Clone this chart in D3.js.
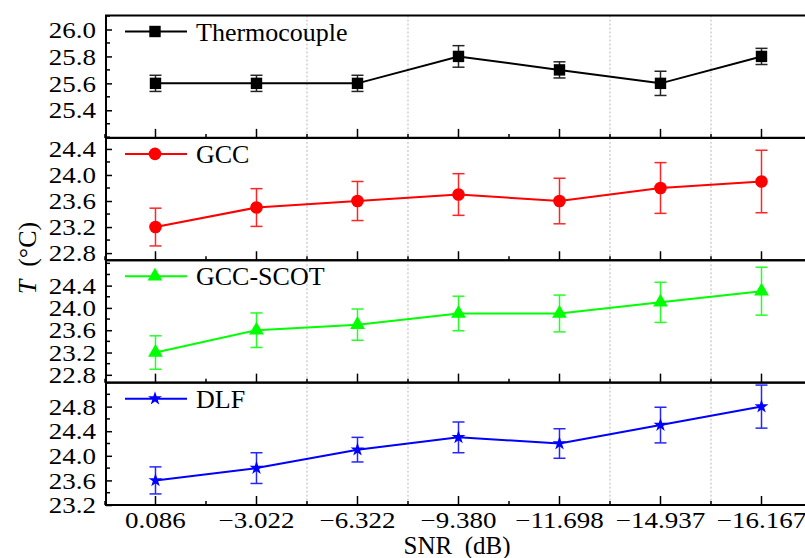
<!DOCTYPE html>
<html>
<head>
<meta charset="utf-8">
<script src="https://cdn.jsdelivr.net/npm/d3@7"></script>
<style>
  html, body { margin: 0; padding: 0; background: #fff; }
  svg { display: block; }
</style>
</head>
<body>
<svg id="chart" width="805" height="558"></svg>
<script>
// SNR levels (x categories)
const snrLabels = ["0.086", "\u22123.022", "\u22126.322", "\u22129.380", "\u221211.698", "\u221214.937", "\u221216.167"];

// Measured temperature (°C) and standard deviation per method
const thermoT   = [25.6, 25.6, 25.6, 25.8, 25.7, 25.6, 25.8];
const thermoErr = [0.06, 0.06, 0.06, 0.08, 0.06, 0.09, 0.06];

const gccT   = [23.2, 23.5, 23.6, 23.7, 23.6, 23.8, 23.9];
const gccErr = [0.29, 0.29, 0.30, 0.32, 0.35, 0.39, 0.48];

const scotT   = [23.2, 23.6, 23.7, 23.9, 23.9, 24.1, 24.3];
const scotErr = [0.30, 0.31, 0.28, 0.31, 0.33, 0.36, 0.43];

const dlfT   = [23.6, 23.8, 24.1, 24.3, 24.2, 24.5, 24.8];
const dlfErr = [0.22, 0.25, 0.20, 0.25, 0.24, 0.29, 0.35];

// Y tick labels per panel
const thermoTicks = [25.4, 25.6, 25.8, 26.0];
const gccTicks    = [22.8, 23.2, 23.6, 24.0, 24.4];
const scotTicks   = [22.8, 23.2, 23.6, 24.0, 24.4];
const dlfTicks    = [23.2, 23.6, 24.0, 24.4, 24.8];

const panels = [
  { name: "Thermocouple", values: thermoT, errors: thermoErr, color: "#000000", symbol: d3.symbolSquare,   size: 130, domain: [25.195, 26.104], ticks: thermoTicks, minorStep: 0.1 },
  { name: "GCC",          values: gccT,    errors: gccErr,    color: "#ff0000", symbol: d3.symbolCircle,   size: 125, domain: [22.69, 24.57],   ticks: gccTicks,    minorStep: 0.2 },
  { name: "GCC-SCOT",     values: scotT,   errors: scotErr,   color: "#00ff00", symbol: d3.symbolTriangle, size: 95,  domain: [22.66, 24.855],  ticks: scotTicks,   minorStep: 0.2 },
  { name: "DLF",          values: dlfT,    errors: dlfErr,    color: "#0000ff", symbol: d3.symbolStar,     size: 60,  domain: [23.2, 25.19],    ticks: dlfTicks,    minorStep: 0.2 }
];

// Dashed separators between some SNR categories
const gridAt = [1.5, 2.5, 4.5, 5.5];

const FONT = "Liberation Serif";
const svg = d3.select("#chart");
const plotLeft = 106, plotRight = 812, plotTop = 15.5, plotBottom = 505;
const panelH = (plotBottom - plotTop) / panels.length;
const tickSX = 1.2; // horizontal widening of tick labels

const x = d3.scaleLinear().domain([-0.49, 6.5]).range([plotLeft, plotRight]);
const idx = d3.range(snrLabels.length);

panels.forEach((p, k) => {
  const y0 = plotTop + k * panelH, y1 = y0 + panelH;
  const y = d3.scaleLinear().domain(p.domain).range([y1, y0]);
  const g = svg.append("g");

  // grid lines
  g.selectAll("line.grid").data(gridAt).enter().append("line")
    .attr("x1", d => x(d)).attr("x2", d => x(d))
    .attr("y1", y0).attr("y2", y1)
    .attr("stroke", "#b8b8b8").attr("stroke-width", 1)
    .attr("stroke-dasharray", "2,2");

  // minor y ticks (inward)
  const minors = d3.range(Math.ceil(p.domain[0] / p.minorStep - 1e-6), Math.floor(p.domain[1] / p.minorStep + 1e-6) + 1)
    .map(i => +(i * p.minorStep).toFixed(2))
    .filter(v => !p.ticks.some(t => Math.abs(t - v) < 1e-6));
  g.selectAll("line.ymin").data(minors).enter().append("line")
    .attr("x1", plotLeft).attr("x2", plotLeft + 4)
    .attr("y1", d => y(d)).attr("y2", d => y(d))
    .attr("stroke", "#000").attr("stroke-width", 1.5);

  // major y axis
  const yAxis = d3.axisLeft(y).tickValues(p.ticks).tickFormat(d3.format(".1f"))
    .tickSizeInner(-6).tickSizeOuter(0).tickPadding(0);
  const ya = g.append("g").attr("transform", `translate(${plotLeft},0)`).call(yAxis);
  ya.attr("font-family", FONT).attr("font-size", 22.5);
  ya.select(".domain").remove();
  ya.selectAll(".tick line").attr("stroke", "#000").attr("stroke-width", 1.5);
  ya.selectAll(".tick text")
    .attr("x", -10 / tickSX)
    .attr("dy", "0.34em")
    .attr("transform", `scale(${tickSX},1)`)
    .attr("font-family", FONT)
    .attr("font-size", 22.5)
    .attr("fill", "#000");

  // x ticks at bottom of each panel (inward)
  g.selectAll("line.xmaj").data(idx).enter().append("line")
    .attr("x1", d => x(d)).attr("x2", d => x(d))
    .attr("y1", y1).attr("y2", y1 - 9)
    .attr("stroke", "#000").attr("stroke-width", 1.5);
  g.selectAll("line.xmin").data(d3.range(-0.5, 6.6, 1)).enter().append("line")
    .attr("x1", d => x(d)).attr("x2", d => x(d))
    .attr("y1", y1).attr("y2", y1 - 4)
    .attr("stroke", "#000").attr("stroke-width", 1.5);

  // frame
  g.append("rect")
    .attr("x", plotLeft).attr("y", y0)
    .attr("width", plotRight - plotLeft).attr("height", panelH)
    .attr("fill", "none").attr("stroke", "#000").attr("stroke-width", 2);

  // error bars
  const eb = g.append("g").attr("stroke", p.color).attr("stroke-width", 1.5).attr("opacity", 0.85);
  idx.forEach(i => {
    const cx = x(i), hi = y(p.values[i] + p.errors[i]), lo = y(p.values[i] - p.errors[i]);
    eb.append("line").attr("x1", cx).attr("x2", cx).attr("y1", hi).attr("y2", lo);
    eb.append("line").attr("x1", cx - 6).attr("x2", cx + 6).attr("y1", hi).attr("y2", hi);
    eb.append("line").attr("x1", cx - 6).attr("x2", cx + 6).attr("y1", lo).attr("y2", lo);
  });

  // series line
  const line = d3.line().x(i => x(i)).y(i => y(p.values[i]));
  g.append("path").datum(idx).attr("d", line)
    .attr("fill", "none").attr("stroke", p.color).attr("stroke-width", 2);

  // markers
  const sym = d3.symbol().type(p.symbol).size(p.size);
  g.selectAll("path.mk").data(idx).enter().append("path")
    .attr("d", sym)
    .attr("transform", i => `translate(${x(i)},${y(p.values[i])})`)
    .attr("fill", p.color);

  // legend
  const ly = y0 + 16;
  g.append("line").attr("x1", 125).attr("x2", 187).attr("y1", ly).attr("y2", ly)
    .attr("stroke", p.color).attr("stroke-width", 2);
  g.append("path").attr("d", sym).attr("transform", `translate(155,${ly})`).attr("fill", p.color);
  g.append("text").attr("x", 196).attr("y", ly + 9.2)
    .attr("font-family", FONT).attr("font-size", 26).attr("fill", "#000")
    .text(p.name);
});

// x tick labels
svg.append("g").selectAll("text").data(idx).enter().append("text")
  .attr("transform", i => `translate(${x(i)},528) scale(${tickSX},1)`)
  .attr("text-anchor", "middle")
  .attr("font-family", FONT).attr("font-size", 22.5).attr("fill", "#000")
  .text(i => snrLabels[i]);

// axis titles
svg.append("text")
  .attr("x", 457).attr("y", 554)
  .attr("text-anchor", "middle")
  .attr("font-family", FONT).attr("font-size", 25).attr("fill", "#000")
  .attr("xml:space", "preserve").style("white-space", "pre")
  .text("SNR  (dB)");

const yt = svg.append("text")
  .attr("transform", "translate(36,258) rotate(-90)")
  .attr("text-anchor", "middle")
  .attr("font-family", FONT).attr("font-size", 26).attr("fill", "#000")
  .style("white-space", "pre");
yt.append("tspan").attr("font-style", "italic").text("T");
yt.append("tspan").text("  (\u00B0C)");
</script>
</body>
</html>
